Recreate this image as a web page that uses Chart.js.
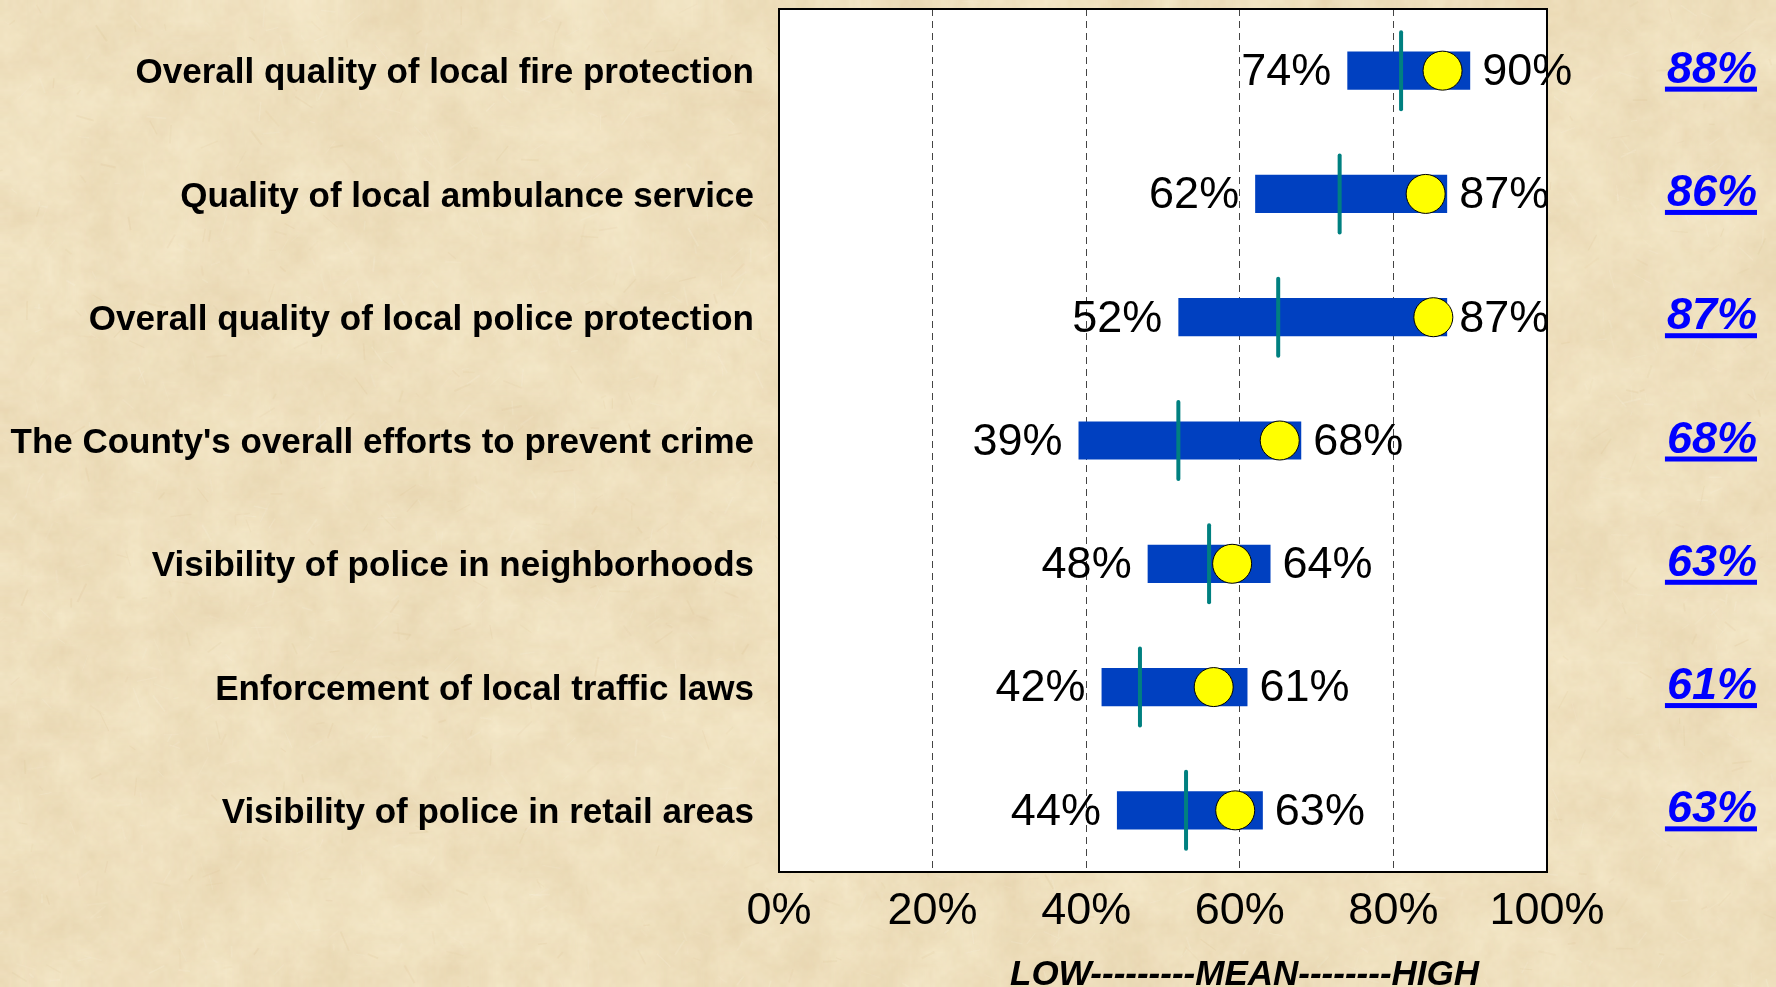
<!DOCTYPE html>
<html>
<head>
<meta charset="utf-8">
<script src="https://cdn.jsdelivr.net/npm/chart.js@4"></script>
<style>
  html, body { margin: 0; padding: 0; background: #eedfbf; }
  #wrap { position: relative; width: 1776px; height: 987px; overflow: hidden; }
  #wrap canvas { position: absolute; left: 0; top: 0; }
</style>
</head>
<body>
<div id="wrap">
  <canvas id="paper" width="1776" height="987"></canvas>
  <canvas id="rangeChart" width="1776" height="987"></canvas>
</div>
<script>
const categories = [
    'Overall quality of local fire protection',
    'Quality of local ambulance service',
    'Overall quality of local police protection',
    "The County's overall efforts to prevent crime",
    'Visibility of police in neighborhoods',
    'Enforcement of local traffic laws',
    'Visibility of police in retail areas',
];
const lowValues = [74, 62, 52, 39, 48, 42, 44];
const highValues = [90, 87, 87, 68, 64, 61, 63];
const meanValues = [81, 73, 65, 52, 56, 47, 53];
const countyValues = [86.4, 84.2, 85.2, 65.2, 59.0, 56.6, 59.4];
const ratingLabels = ['88%', '86%', '87%', '68%', '63%', '61%', '63%'];
const tickValues = [0, 20, 40, 60, 80, 100];
const scaleCaption = 'LOW---------MEAN--------HIGH';

const FONT = '"Liberation Sans", Arial, sans-serif';

// parchment background: coarse seeded noise scaled up, plus a few fibres
function paintPaper() {
    const c = document.getElementById('paper');
    const ctx = c.getContext('2d');
    let seed = 1234567;
    const rnd = () => (seed = (seed * 16807) % 2147483647) / 2147483647;

    ctx.fillStyle = '#efe0c0';
    ctx.fillRect(0, 0, c.width, c.height);

    [[40, 0.7, 30], [14, 0.45, 20], [4, 0.3, 12]].forEach(([step, alpha, amp]) => {
        const w = Math.ceil(c.width / step);
        const h = Math.ceil(c.height / step);
        const small = document.createElement('canvas');
        small.width = w;
        small.height = h;
        const sctx = small.getContext('2d');
        const img = sctx.createImageData(w, h);
        for (let p = 0; p < w * h; p++) {
            const d = (rnd() - 0.5) * amp;
            img.data[p * 4] = 239 + d * 0.8;
            img.data[p * 4 + 1] = 224 + d * 1.2;
            img.data[p * 4 + 2] = 190 + d * 1.6;
            img.data[p * 4 + 3] = 255;
        }
        sctx.putImageData(img, 0, 0);
        ctx.globalAlpha = alpha;
        ctx.imageSmoothingEnabled = true;
        ctx.drawImage(small, 0, 0, c.width, c.height);
    });

    for (let i = 0; i < 1800; i++) {
        const x = rnd() * c.width;
        const y = rnd() * c.height;
        const a = rnd() * Math.PI;
        const len = 5 + rnd() * 16;
        ctx.globalAlpha = 0.08 + rnd() * 0.12;
        ctx.strokeStyle = rnd() < 0.65 ? '#fbf4e4' : '#d8bd8d';
        ctx.lineWidth = 1 + rnd();
        ctx.beginPath();
        ctx.moveTo(x, y);
        ctx.lineTo(x + Math.cos(a) * len, y + Math.sin(a) * len);
        ctx.stroke();
    }
    ctx.globalAlpha = 1;
}

const plotFrame = {
    id: 'plotFrame',
    beforeDraw(chart) {
        const { ctx, chartArea: a } = chart;
        ctx.save();
        ctx.fillStyle = '#ffffff';
        ctx.fillRect(a.left, a.top, a.right - a.left, a.bottom - a.top);
        ctx.restore();
    },
    beforeDatasetDraw(chart, args) {
        if (args.index === 1) {
            chart.ctx.save();
            chart.ctx.lineCap = 'round';
        }
    },
    afterDatasetDraw(chart, args) {
        if (args.index === 1) {
            chart.ctx.restore();
        }
    },
    afterDatasetsDraw(chart) {
        const { ctx, chartArea: a, scales } = chart;
        const x = scales.x;
        const y = scales.y;
        ctx.save();

        ctx.strokeStyle = '#000000';
        ctx.lineWidth = 2;
        ctx.strokeRect(a.left, a.top, a.right - a.left, a.bottom - a.top);

        // low / high values beside each bar
        ctx.font = '45px ' + FONT;
        ctx.fillStyle = '#000000';
        ctx.textBaseline = 'middle';
        categories.forEach((cat, i) => {
            const py = y.getPixelForValue(i) + 2;
            ctx.textAlign = 'right';
            ctx.fillText(lowValues[i] + '%', x.getPixelForValue(lowValues[i]) - 16, py);
            ctx.textAlign = 'left';
            ctx.fillText(highValues[i] + '%', x.getPixelForValue(highValues[i]) + 12, py);
        });

        // underlined ratings in the right margin
        ctx.font = 'italic bold 45px ' + FONT;
        ctx.fillStyle = '#0000ff';
        ctx.textAlign = 'right';
        ctx.textBaseline = 'alphabetic';
        const rx = a.right + 210;
        ratingLabels.forEach((txt, i) => {
            const base = y.getPixelForValue(i) + 12;
            ctx.fillText(txt, rx, base);
            const w = ctx.measureText(txt).width;
            ctx.fillRect(rx - w - 2, base + 4, w + 2, 5);
        });

        ctx.font = 'italic bold 35px ' + FONT;
        ctx.fillStyle = '#000000';
        ctx.textAlign = 'left';
        ctx.fillText(scaleCaption, a.left + 231, a.bottom + 113);
        ctx.restore();
    },
};

function createRangeChart() {
    paintPaper();
    const canvas = document.getElementById('rangeChart');

    new Chart(canvas, {
        type: 'bar',
        data: {
            labels: categories,
            datasets: [
                {
                    label: 'Range',
                    data: lowValues.map((v, i) => [v, highValues[i]]),
                    backgroundColor: '#0040c0',
                    borderWidth: 0,
                    barPercentage: 0.31,
                    categoryPercentage: 1,
                    order: 3,
                },
                {
                    type: 'line',
                    label: 'Mean',
                    data: meanValues.map((v, i) => ({ x: v, y: categories[i] })),
                    showLine: false,
                    pointStyle: 'line',
                    pointRotation: 90,
                    pointRadius: 38.5,
                    pointBorderColor: '#008080',
                    pointBorderWidth: 4,
                    clip: false,
                    order: 2,
                },
                {
                    type: 'line',
                    label: 'County',
                    data: countyValues.map((v, i) => ({ x: v, y: categories[i] })),
                    showLine: false,
                    pointStyle: 'circle',
                    pointRadius: 19.5,
                    pointBackgroundColor: '#ffff00',
                    pointBorderColor: '#000000',
                    pointBorderWidth: 1,
                    clip: false,
                    order: 1,
                },
            ],
        },
        options: {
            indexAxis: 'y',
            responsive: false,
            animation: false,
            events: [],
            layout: {
                autoPadding: false,
                padding: { top: 9, right: 229, left: 0, bottom: 0 },
            },
            scales: {
                x: {
                    type: 'linear',
                    min: 0,
                    max: 100,
                    afterBuildTicks: (scale) => {
                        scale.ticks = tickValues.map((v) => ({ value: v }));
                    },
                    afterFit: (scale) => { scale.height = 115; },
                    ticks: {
                        callback: (v) => v + '%',
                        color: '#000000',
                        font: { family: FONT, size: 45 },
                        padding: 13,
                        maxRotation: 0,
                    },
                    grid: {
                        color: '#444444',
                        lineWidth: 1,
                        drawTicks: false,
                    },
                    border: { display: false, dash: [7, 5] },
                },
                y: {
                    type: 'category',
                    afterFit: (scale) => {
                        scale.width = 779;
                        scale.paddingTop = 0;
                        scale.paddingBottom = 0;
                    },
                    ticks: {
                        color: '#000000',
                        font: { family: FONT, size: 35, weight: 'bold' },
                        padding: 25,
                        labelOffset: 3,
                        autoSkip: false,
                    },
                    grid: { display: false, drawTicks: false },
                    border: { display: false },
                },
            },
            plugins: {
                legend: { display: false },
                tooltip: { enabled: false },
            },
        },
        plugins: [plotFrame],
    });
}

document.addEventListener('DOMContentLoaded', createRangeChart);
</script>
</body>
</html>
